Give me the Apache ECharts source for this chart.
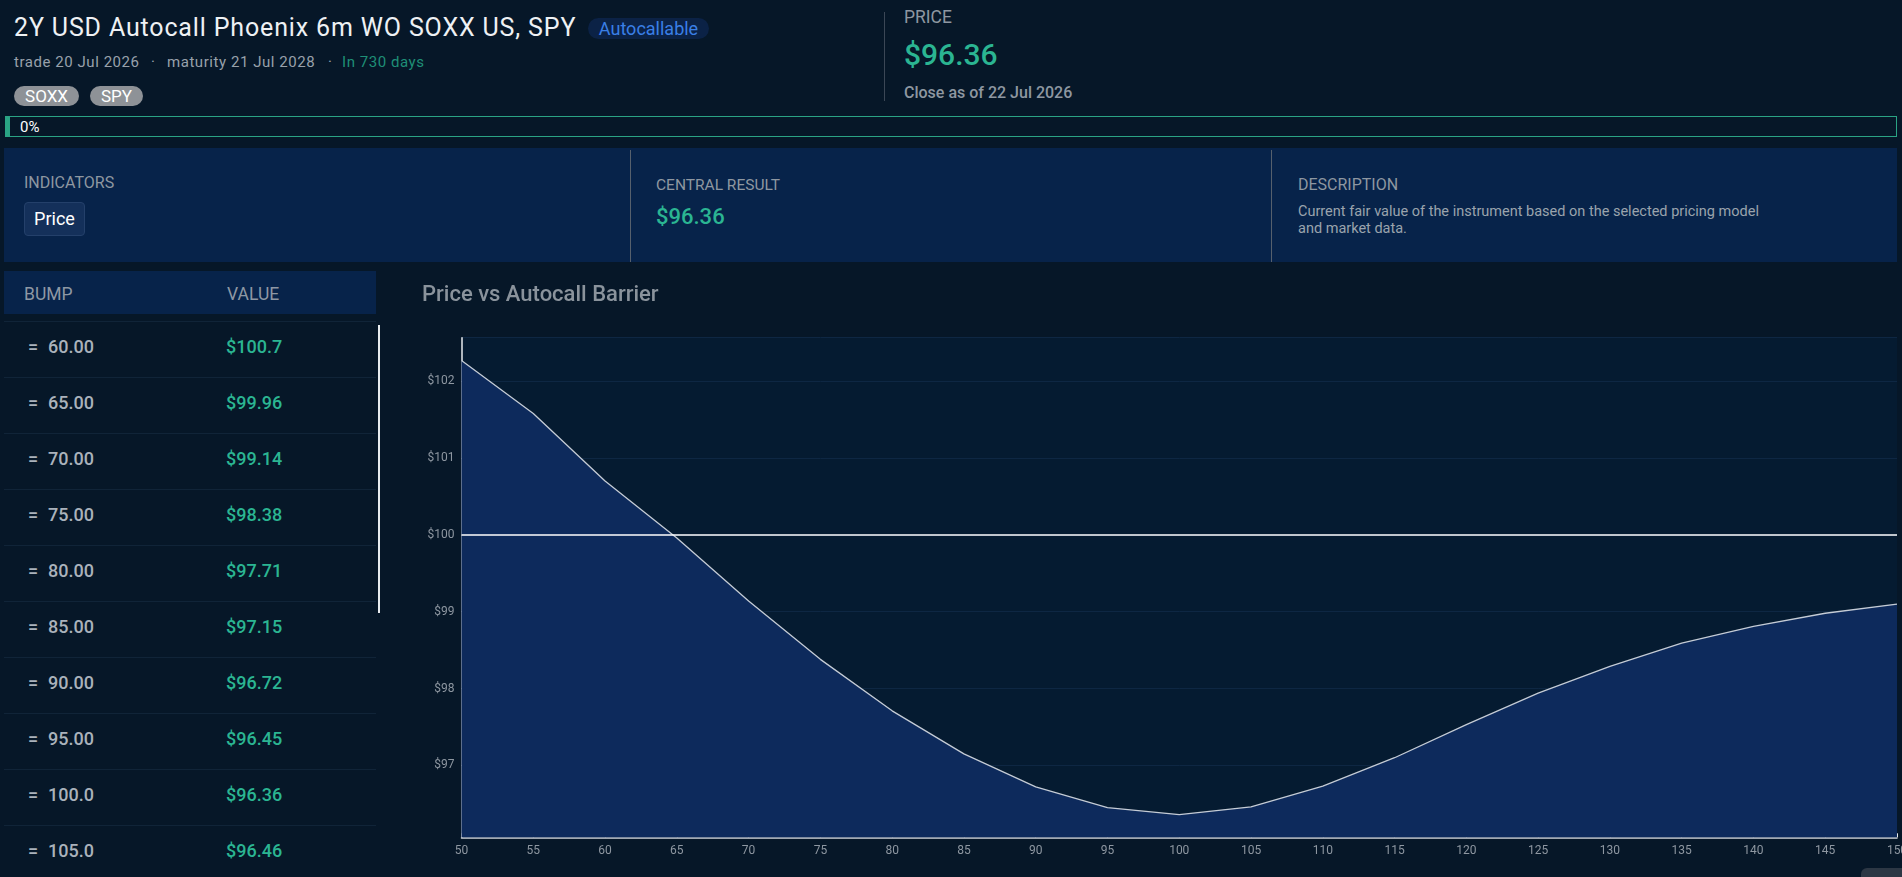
<!DOCTYPE html>
<html>
<head>
<meta charset="utf-8">
<script src="https://cdn.jsdelivr.net/npm/echarts@6/dist/echarts.min.js"></script>
<style>
  html, body { margin:0; padding:0; width:1902px; height:877px; overflow:hidden; background:#061728; font-family: Roboto, "Noto Sans", sans-serif; }
  .abs { position:absolute; white-space:nowrap; }
  .teal { color:#2bb592; }
</style>
</head>
<body>
<script>
// ---- Data ----
const bumps  = [50, 55, 60, 65, 70, 75, 80, 85, 90, 95, 100, 105, 110, 115, 120, 125, 130, 135, 140, 145, 150];
const prices = [102.27, 101.58, 100.7, 99.96, 99.14, 98.38, 97.71, 97.15, 96.72, 96.45, 96.36, 96.46, 96.73, 97.10, 97.53, 97.94, 98.29, 98.59, 98.81, 98.98, 99.10];
const barrierLevel = 100;
const tableStartIndex = 2;   // table starts at bump 60
const titleText = '2Y USD Autocall Phoenix 6m WO SOXX US, SPY';
const underlyings = ['SOXX', 'SPY'];
const centralPrice = '$96.36';
</script>

<!-- Header -->
<div class="abs" style="left:14px;top:13px;font-size:25px;line-height:30px;letter-spacing:0.85px;color:#eef1f4;" id="title"></div>
<div class="abs" style="left:588px;top:18px;width:121px;height:21px;line-height:21px;text-align:center;border-radius:11px;background:#0b2246;color:#3a7fe6;font-size:18px;">Autocallable</div>
<div class="abs" style="left:14px;top:52px;font-size:15px;line-height:20px;letter-spacing:0.55px;color:#98a1ab;">trade 20 Jul 2026</div>
<div class="abs" style="left:151px;top:52px;font-size:15px;line-height:20px;color:#98a1ab;">·</div>
<div class="abs" style="left:167px;top:52px;font-size:15px;line-height:20px;letter-spacing:0.55px;color:#98a1ab;">maturity 21 Jul 2028</div>
<div class="abs" style="left:328px;top:52px;font-size:15px;line-height:20px;color:#98a1ab;">·</div>
<div class="abs" style="left:342px;top:52px;font-size:15px;line-height:20px;letter-spacing:0.55px;color:#1f8f77;">In 730 days</div>
<div id="pills"></div>
<div class="abs" style="left:884px;top:12px;width:1px;height:89px;background:#3b4756;"></div>
<div class="abs" style="left:904px;top:7px;font-size:17.5px;line-height:20px;color:#8e97a1;">PRICE</div>
<div class="abs teal" style="left:904px;top:37px;font-size:30px;line-height:36px;font-weight:500;" id="bigPrice"></div>
<div class="abs" style="left:904px;top:83px;font-size:16px;line-height:20px;font-weight:500;color:#8e97a1;">Close as of 22 Jul 2026</div>

<!-- Progress -->
<div class="abs" style="left:5px;top:116px;width:1886px;height:19px;border:1px solid #2aa384;border-left:5px solid #2aa384;"></div>
<div class="abs" style="left:20px;top:118px;font-size:15px;line-height:18px;color:#ffffff;">0%</div>

<!-- Panels -->
<div class="abs" style="left:4px;top:148px;width:1893px;height:114px;background:#07234a;"></div>
<div class="abs" style="left:630px;top:150px;width:1px;height:112px;background:#56606d;"></div>
<div class="abs" style="left:1271px;top:150px;width:1px;height:112px;background:#56606d;"></div>
<div class="abs" style="left:24px;top:173px;font-size:16px;line-height:20px;color:#8e97a1;">INDICATORS</div>
<div class="abs" style="left:24px;top:202px;width:59px;height:32px;line-height:32px;text-align:center;background:#14305a;border:1px solid #24406a;border-radius:4px;color:#ffffff;font-size:18px;">Price</div>
<div class="abs" style="left:656px;top:175px;font-size:15.5px;line-height:20px;color:#8e97a1;">CENTRAL RESULT</div>
<div class="abs teal" style="left:656px;top:204px;font-size:22px;line-height:26px;font-weight:500;" id="midPrice"></div>
<div class="abs" style="left:1298px;top:175px;font-size:16px;line-height:20px;color:#8e97a1;">DESCRIPTION</div>
<div class="abs" style="left:1298px;top:203px;font-size:14.5px;line-height:17px;color:#9aa3ad;">Current fair value of the instrument based on the selected pricing model<br>and market data.</div>

<!-- Table -->
<div class="abs" style="left:4px;top:271px;width:372px;height:43px;background:#07234a;"></div>
<div class="abs" style="left:24px;top:283px;font-size:17.5px;line-height:22px;color:#8e98a4;">BUMP</div>
<div class="abs" style="left:227px;top:283px;font-size:17.5px;line-height:22px;color:#8e98a4;">VALUE</div>
<div class="abs" id="rows" style="left:4px;top:314px;width:372px;height:563px;overflow:hidden;"></div>
<div class="abs" style="left:378px;top:325px;width:2px;height:288px;background:#e8ecef;"></div>

<!-- Chart -->
<div class="abs" id="chart" style="left:400px;top:270px;width:1540px;height:607px;"></div>
<div class="abs" style="left:1861px;top:868px;width:50px;height:20px;border-radius:6px;background:#2c3744;"></div>

<script>
document.getElementById('title').textContent = titleText;
document.getElementById('bigPrice').textContent = centralPrice;
document.getElementById('midPrice').textContent = centralPrice;

// pills
(function(){
  const lefts = [14, 90];
  const widths = [65, 53];
  let html = '';
  underlyings.forEach((u, i) => {
    html += '<div class="abs" style="left:' + lefts[i] + 'px;top:86px;width:' + widths[i] + 'px;height:20px;line-height:20px;text-align:center;border-radius:10px;background:#8e9297;color:#ffffff;font-size:17px;">' + u + '</div>';
  });
  document.getElementById('pills').innerHTML = html;
})();

// table rows
(function(){
  let html = '';
  for (let i = tableStartIndex, r = 0; i < bumps.length; i++, r++) {
    const top = 7 + r * 56;
    html += '<div style="position:absolute;left:0;top:' + top + 'px;width:372px;height:56px;border-top:1px solid #102438;">' +
      '<span style="position:absolute;left:24px;top:0;line-height:50px;font-size:18px;font-weight:500;color:#aab2bb;">=</span>' +
      '<span style="position:absolute;left:44px;top:0;line-height:50px;font-size:18px;font-weight:500;color:#aab2bb;">' + bumps[i].toPrecision(4) + '</span>' +
      '<span style="position:absolute;left:222px;top:0;line-height:50px;font-size:18px;font-weight:500;color:#2bb592;">$' + prices[i].toPrecision(4) + '</span>' +
      '</div>';
  }
  document.getElementById('rows').innerHTML = html;
})();

const chart = echarts.init(document.getElementById('chart'), null, { renderer: 'canvas' });
const option = {
  animation: false,
  backgroundColor: 'transparent',
  textStyle: { fontFamily: 'Roboto' },
  title: {
    text: 'Price vs Autocall Barrier',
    left: 22, top: 14, padding: 0,
    textStyle: { color: '#8a939c', fontSize: 22, fontWeight: 500, fontFamily: 'Roboto' }
  },
  grid: {
    left: 61.5, top: 67.7, width: 1435.5, height: 499.6,
    show: true, backgroundColor: '#051b31', borderWidth: 0
  },
  xAxis: {
    type: 'value', min: 50, max: 150, interval: 5,
    axisLine: { show: true, onZero: false, lineStyle: { color: '#d5d9de', width: 1.5 } },
    axisTick: { show: true, inside: true, length: 4, lineStyle: { color: '#e8ebee' } },
    axisLabel: { color: '#8e97a1', fontSize: 12, margin: 8, fontFamily: 'Roboto' },
    splitLine: { show: false }
  },
  yAxis: {
    type: 'value',
    min: v => v.min - 0.05 * (v.max - v.min),
    max: v => v.max + 0.05 * (v.max - v.min),
    splitNumber: 6,
    axisLine: { show: true, onZero: false, lineStyle: { color: '#e8ebee', width: 1.5 } },
    axisTick: { show: true, inside: true, length: 4, lineStyle: { color: '#e8ebee' } },
    axisLabel: {
      color: '#8e97a1', fontSize: 12, margin: 7, fontFamily: 'Roboto',
      showMinLabel: false, showMaxLabel: false,
      formatter: v => '$' + v
    },
    splitLine: { show: true, lineStyle: { color: '#0e2743', width: 1 } }
  },
  series: [{
    type: 'line',
    data: bumps.map((b, i) => [b, prices[i]]),
    showSymbol: false,
    lineStyle: { color: '#c5ccd6', width: 1.3 },
    areaStyle: { color: '#0d2a5c', opacity: 1, origin: 'start' },
    markLine: {
      silent: true, symbol: 'none', label: { show: false },
      lineStyle: { color: '#ffffff', width: 1.5, type: 'solid' },
      data: [{ yAxis: barrierLevel }]
    }
  }]
};
chart.setOption(option);
</script>
</body>
</html>
